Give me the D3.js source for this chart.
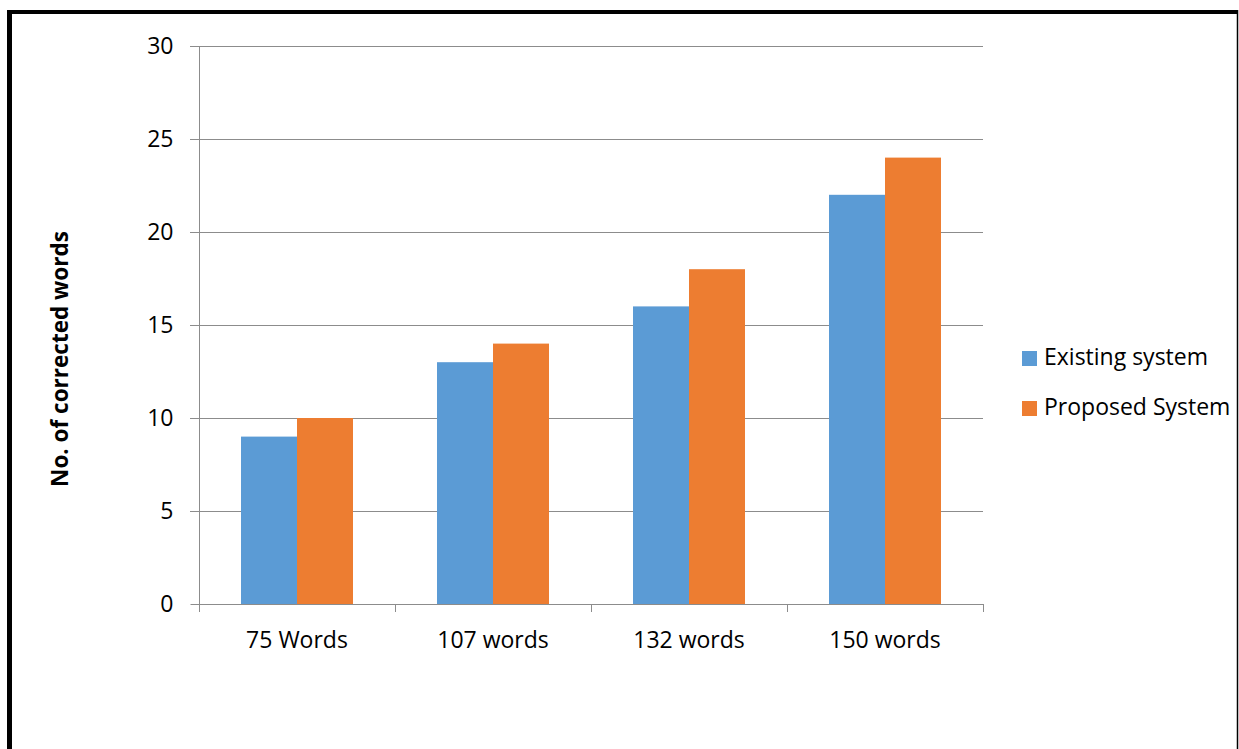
<!DOCTYPE html>
<html>
<head>
<meta charset="utf-8">
<script src="https://cdn.jsdelivr.net/npm/d3@7"></script>
<style>
  body { margin: 0; background: #fff; }
  text { font-family: "Open Sans", "Noto Sans", sans-serif; }
</style>
</head>
<body>
<div id="chart-area"></div>
<script>
var categories = ["75 Words", "107 words", "132 words", "150 words"];
var seriesNames = ["Existing system", "Proposed System"];
var existing = [9, 13, 16, 22];
var proposed = [10, 14, 18, 24];
var yTicks = [0, 5, 10, 15, 20, 25, 30];
var colors = ["#5B9BD5", "#ED7D31"];

var width = 1239, height = 749;

var svg = d3.select("#chart-area").append("svg")
	.attr("width", width)
	.attr("height", height);

// outer frame: thick left and top, thin right
svg.append("line")
	.attr("x1", 9.5).attr("x2", 9.5)
	.attr("y1", 10).attr("y2", height)
	.attr("stroke", "black")
	.attr("stroke-width", 5);
svg.append("line")
	.attr("x1", 7).attr("x2", 1238)
	.attr("y1", 12).attr("y2", 12)
	.attr("stroke", "black")
	.attr("stroke-width", 4);
svg.append("line")
	.attr("x1", 1237.5).attr("x2", 1237.5)
	.attr("y1", 10).attr("y2", height)
	.attr("stroke", "black")
	.attr("stroke-width", 1.5);

var pLeft = 199, pRight = 983, pTop = 46, pBottom = 604;

var x = d3.scaleBand().domain(categories).range([pLeft, pRight]);
var y = d3.scaleLinear().domain([0, 30]).range([pBottom, pTop]);

var data = categories.map(function(c, i) {
	return {cat: c, values: [existing[i], proposed[i]]};
});

// gridlines
svg.append("g")
	.selectAll("line")
	.data(yTicks.filter(function(d) { return d > 0; }))
	.enter().append("line")
	.attr("x1", pLeft - 9).attr("x2", pRight)
	.attr("y1", function(d) { return Math.round(y(d)) + 0.5; })
	.attr("y2", function(d) { return Math.round(y(d)) + 0.5; })
	.attr("stroke", "#8c8c8c")
	.attr("stroke-width", 1);

// bars
var barW = 56;
var groups = svg.append("g").selectAll("g")
	.data(data)
	.enter().append("g")
	.attr("transform", function(d) { return "translate(" + (x(d.cat) + x.bandwidth() / 2 - barW) + ",0)"; });

groups.selectAll("rect")
	.data(function(d) { return d.values; })
	.enter().append("rect")
	.attr("x", function(d, i) { return i * barW; })
	.attr("y", function(d) { return y(d); })
	.attr("width", barW)
	.attr("height", function(d) { return pBottom - y(d); })
	.attr("fill", function(d, i) { return colors[i]; });

// y axis
var yAxis = svg.append("g")
	.attr("transform", "translate(" + (pLeft + 0.5) + ",0)")
	.call(d3.axisLeft(y).tickValues(yTicks).tickSize(9).tickPadding(17));
yAxis.select(".domain").attr("stroke", "#8c8c8c").attr("d", "M0," + pTop + "V" + (pBottom + 0.5));
yAxis.selectAll(".tick line").attr("stroke", "#8c8c8c");
yAxis.selectAll(".tick text")
	.attr("font-size", 23)
	.attr("fill", "#000");

// x axis
var xAxis = svg.append("g")
	.attr("transform", "translate(0," + (pBottom + 0.5) + ")")
	.call(d3.axisBottom(x).tickSize(0).tickPadding(27));
xAxis.select(".domain").attr("stroke", "#8c8c8c").attr("d", "M" + pLeft + ",0H" + (pRight + 0.5));
xAxis.selectAll(".tick text")
	.attr("font-size", 23)
	.attr("fill", "#000");
svg.append("g").selectAll("line")
	.data(categories.concat(["end"]))
	.enter().append("line")
	.attr("x1", function(d, i) { return Math.round(pLeft + i * x.bandwidth()) + 0.5; })
	.attr("x2", function(d, i) { return Math.round(pLeft + i * x.bandwidth()) + 0.5; })
	.attr("y1", pBottom)
	.attr("y2", pBottom + 8)
	.attr("stroke", "#8c8c8c");

// y axis title
svg.append("text")
	.attr("transform", "translate(68,359) rotate(-90)")
	.attr("text-anchor", "middle")
	.attr("font-size", 22.5)
	.attr("font-weight", "bold")
	.text("No. of corrected words");

// legend
var legend = svg.append("g").selectAll("g")
	.data(seriesNames)
	.enter().append("g")
	.attr("transform", function(d, i) { return "translate(1022," + (351 + i * 50) + ")"; });
legend.append("rect")
	.attr("width", 15).attr("height", 15)
	.attr("fill", function(d, i) { return colors[i]; });
legend.append("text")
	.attr("x", 22).attr("y", 14)
	.attr("font-size", 23)
	.text(function(d) { return d; });
</script>
</body>
</html>
